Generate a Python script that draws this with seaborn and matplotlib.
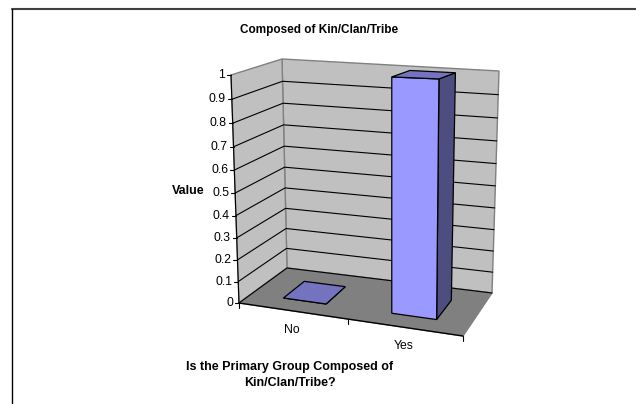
import numpy as np
import matplotlib
matplotlib.use("Agg")
import matplotlib.pyplot as plt
import matplotlib.transforms as mtransforms
from matplotlib.patches import Polygon, Rectangle
import seaborn as sns

categories = ["No", "Yes"]
values = [0, 1]
y_ticks = [0, 0.1, 0.2, 0.3, 0.4, 0.5, 0.6, 0.7, 0.8, 0.9, 1]
y_tick_labels = ["0", "0.1", "0.2", "0.3", "0.4", "0.5", "0.6", "0.7", "0.8", "0.9", "1"]

# box corners in pixels: front/back, bottom/top, left/right
FBL, FBR, FTL, FTR = (239, 303), (463, 336), (231, 75), (466, 84)
BBL, BBR, BTL, BTR = (287, 268), (492, 293), (282, 59), (499, 71)
BAR_WIDTH = 0.4
DEPTH_NEAR, DEPTH_FAR = 0.27, 0.73
# foreshortening of the two in-plane directions
WARP_X, WARP_Y = 0.05, 0.073


def project(x, y, d):
    # x = category position (0..2), y = value (0..1), d = depth (0 front, 1 back)
    u = np.asarray(x, dtype=float) / 2
    y = np.asarray(y, dtype=float)
    d = np.asarray(d, dtype=float)
    u = u / (1 + WARP_X * (1 - u))
    y = y / (1 + WARP_Y * (1 - y))
    corners = [FBL, FBR, FTL, FTR, BBL, BBR, BTL, BTR]
    weights = [(1-u)*(1-y)*(1-d), u*(1-y)*(1-d), (1-u)*y*(1-d), u*y*(1-d),
               (1-u)*(1-y)*d, u*(1-y)*d, (1-u)*y*d, u*y*d]
    px = sum(w * c[0] for w, c in zip(weights, corners))
    py = sum(w * c[1] for w, c in zip(weights, corners))
    return np.column_stack([np.atleast_1d(px), np.atleast_1d(py)])


class BarFront(mtransforms.Transform):
    # sends seaborn's (category, value) bar coordinates onto the front plane of the bars
    input_dims = 2
    output_dims = 2

    def transform_non_affine(self, values):
        values = np.asarray(values, dtype=float)
        return project(values[:, 0] + 0.5, values[:, 1], DEPTH_NEAR)


def pts(*triples):
    return np.vstack([project(*t) for t in triples])


sns.set_theme(style="white")
plt.rcParams["font.family"] = ["Liberation Sans", "DejaVu Sans"]

fig = plt.figure(figsize=(6.36, 4.04), dpi=100)
ax = fig.add_axes([0, 0, 1, 1])

# walls and floor
ax.add_patch(Polygon(pts((0, 0, 1), (2, 0, 1), (2, 1, 1), (0, 1, 1)), fc="#C0C0C0", ec="#808080", lw=1, zorder=1))
ax.add_patch(Polygon(pts((0, 0, 0), (0, 0, 1), (0, 1, 1), (0, 1, 0)), fc="#C0C0C0", ec="#808080", lw=1, zorder=1))
ax.add_patch(Polygon(pts((0, 0, 0), (2, 0, 0), (2, 0, 1), (0, 0, 1)), fc="#808080", ec="#808080", lw=1, zorder=1))

# gridlines
for t in y_ticks:
    xy = pts((0, t, 0), (0, t, 1), (2, t, 1))
    if t == 1:
        continue
    ax.plot(xy[:, 0], xy[:, 1], color="black", lw=0.8, zorder=2)

# axis lines and ticks
xy = pts((0, 0, 0), (0, 1, 0))
ax.plot(xy[:, 0], xy[:, 1], color="black", lw=0.8, zorder=3)
xy = pts((0, 0, 0), (2, 0, 0))
ax.plot(xy[:, 0], xy[:, 1], color="black", lw=1, zorder=3)
for t, lab in zip(y_ticks, y_tick_labels):
    px, py = project(0, t, 0)[0]
    ax.plot([px - 4, px], [py, py], color="black", lw=0.8, zorder=3)
    ax.text(px - 6, py, lab, ha="right", va="center", fontsize=8.8, color="black")
for k in range(3):
    px, py = project(k, 0, 0)[0]
    ax.plot([px, px], [py, py + 5], color="black", lw=0.8, zorder=3)
for k, lab in enumerate(categories):
    px, py = project(k + 0.5, 0, 0)[0]
    ax.text(px - 1, py + 19, lab, ha="center", va="center", fontsize=8.8, color="black")

# bars: front faces come from seaborn, top and side faces from the same geometry
sns.barplot(x=categories, y=values, width=BAR_WIDTH, color="#9999FF", saturation=1,
            edgecolor="black", linewidth=0.9, ax=ax, zorder=5)
front = BarFront() + ax.transData
for patch in list(ax.patches):
    if isinstance(patch, Rectangle):
        patch.set_transform(front)
        patch.set_clip_on(False)

for k, v in enumerate(values):
    x0, x1 = k + 0.5 - BAR_WIDTH / 2, k + 0.5 + BAR_WIDTH / 2
    ax.add_patch(Polygon(pts((x1, 0, DEPTH_NEAR), (x1, 0, DEPTH_FAR), (x1, v, DEPTH_FAR), (x1, v, DEPTH_NEAR)),
                         fc="#4D4D80", ec="black", lw=0.9, zorder=4))
    ax.add_patch(Polygon(pts((x0, v, DEPTH_NEAR), (x1, v, DEPTH_NEAR), (x1, v, DEPTH_FAR), (x0, v, DEPTH_FAR)),
                         fc="#7373BF", ec="black", lw=0.9, zorder=6))

# titles
ax.text(319, 30, "Composed of Kin/Clan/Tribe", ha="center", va="center", fontsize=8.5, fontweight="bold", color="black")
ax.text(188, 191, "Value", ha="center", va="center", fontsize=9, fontweight="bold", color="black")
ax.text(290, 367, "Is the Primary Group Composed of", ha="center", va="center", fontsize=9, fontweight="bold", color="black")
ax.text(290, 383, "Kin/Clan/Tribe?", ha="center", va="center", fontsize=9, fontweight="bold", color="black")

ax.set_xlim(0, 636)
ax.set_ylim(404, 0)
ax.axis("off")

# chart frame: only the top and left edges fall inside the picture
fig.add_artist(plt.Line2D([0.0185, 1], [1 - 9 / 404, 1 - 9 / 404], color="#404040", lw=1.5))
fig.add_artist(plt.Line2D([11.6 / 636, 11.6 / 636], [0, 1 - 9 / 404], color="black", lw=1.0))

fig.savefig("out.png", dpi=100)
